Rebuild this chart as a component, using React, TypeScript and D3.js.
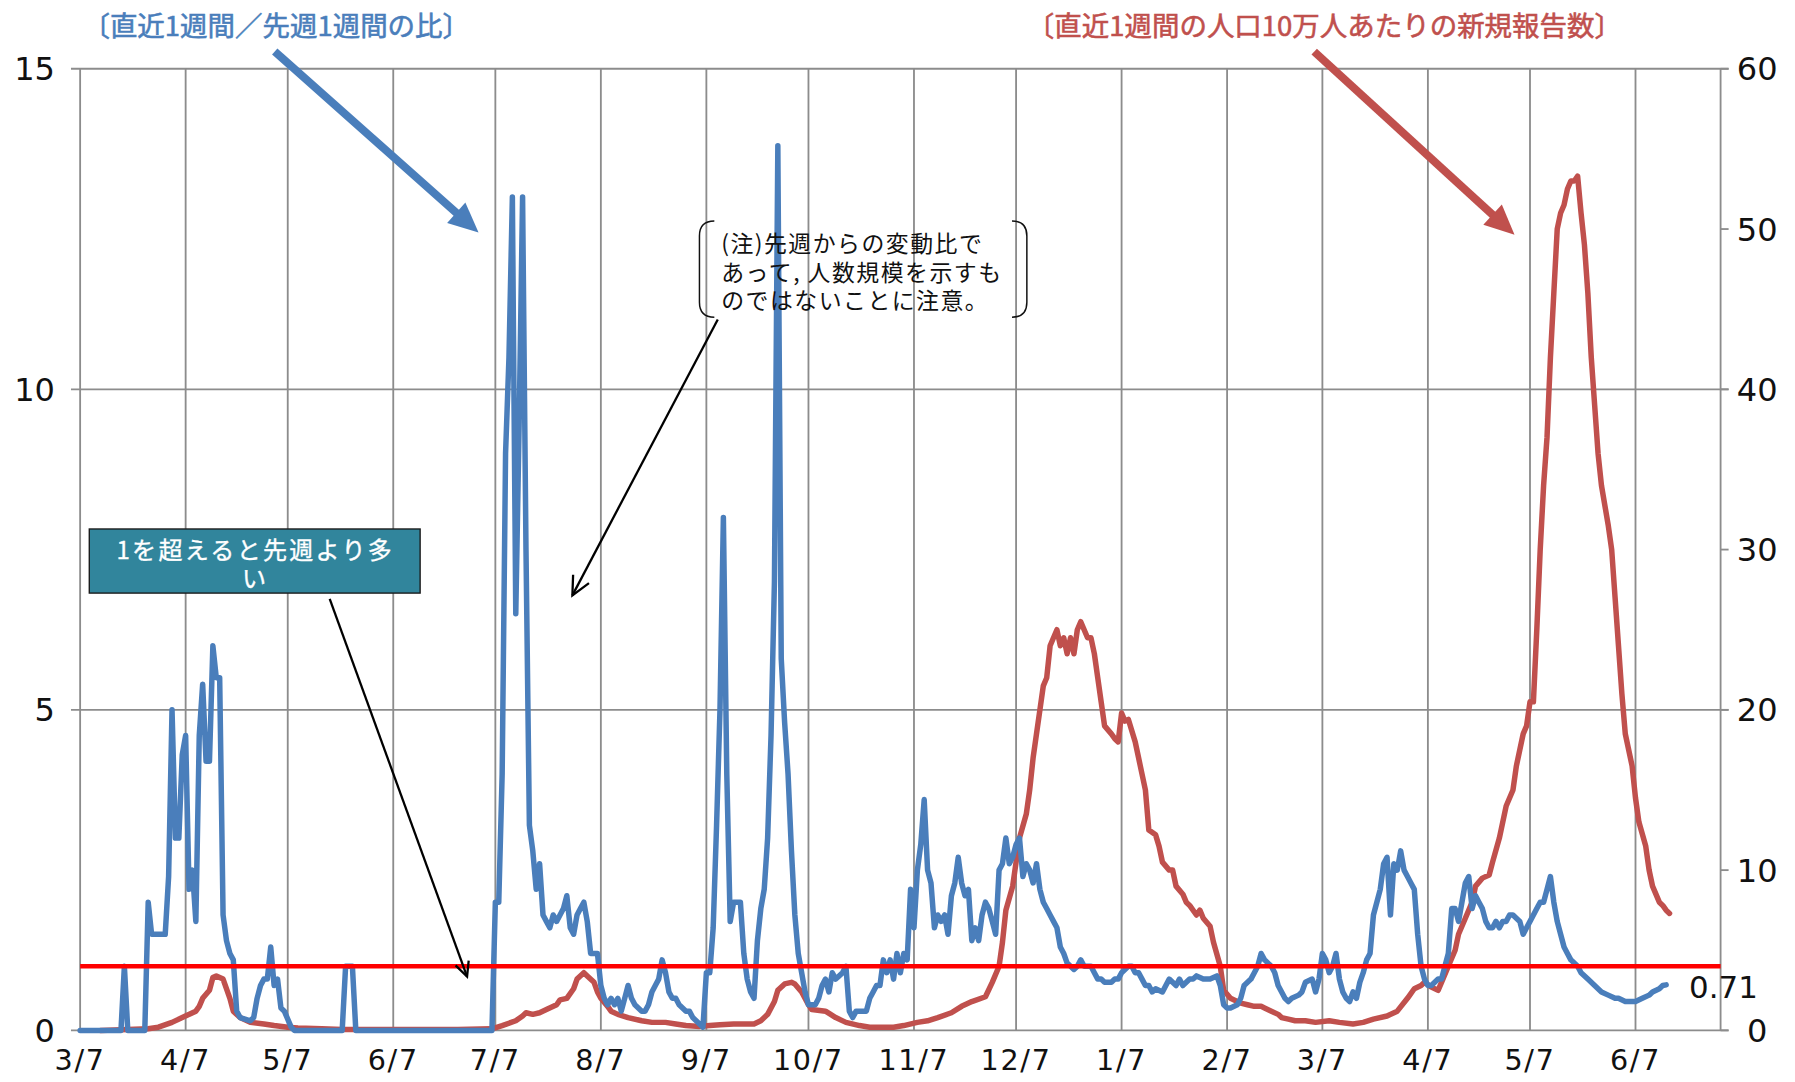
import React from "react";
import * as d3 from "d3";

// ---- data (day offsets from 2020-03-07, values) ----
const startDate = new Date(2020, 2, 7);
const axisDays = 482;
const monthTickLabels = ["3/7","4/7","5/7","6/7","7/7","8/7","9/7","10/7","11/7","12/7","1/7","2/7","3/7","4/7","5/7","6/7"];
const leftTicks = [0, 5, 10, 15];
const rightTicks = [0, 10, 20, 30, 40, 50, 60];
const thresholdRatio = 1;
const lastRatioLabel = "0.71";

// 直近1週間／先週1週間の比
const ratioSeries: [number, number][] = [
[0,0],[12,0],[13,1.0],[14,0],[19,0],[20,2.0],[21,1.5],[25,1.5],[26,2.4],[27,5.0],[28,3.0],[29,3.0],[30,4.3],[31,4.6],[32,2.2],[33,2.5],[34,1.7],[35,4.6],[36,5.4],[37,4.2],[38,4.2],[39,6.0],[40,5.5],[41,5.5],[42,1.8],[43,1.4],[44,1.2],[45,1.1],[46,0.3],[47,0.2],[50,0.15],[51,0.2],[52,0.5],[53,0.7],[54,0.8],[55,0.8],[56,1.3],[57,0.7],[58,0.8],[59,0.35],[60,0.3],[62,0.05],[63,0],[77,0],[78,1.0],[80,1.0],[81,0],[121,0],[122,2.0],[123,2.0],[124,4.0],[125,9.0],[126,10.5],[127,13.0],[128,6.5],[129,9.5],[130,13.0],[131,7.5],[132,3.2],[133,2.8],[134,2.2],[135,2.6],[136,1.8],[137,1.7],[138,1.6],[139,1.8],[140,1.7],[141,1.8],[142,1.9],[143,2.1],[144,1.6],[145,1.5],[146,1.8],[147,1.9],[148,2.0],[149,1.7],[150,1.2],[151,1.2],[152,1.2],[153,0.7],[154,0.5],[155,0.4],[156,0.5],[157,0.4],[158,0.5],[159,0.3],[160,0.5],[161,0.7],[162,0.5],[163,0.4],[164,0.35],[165,0.3],[166,0.3],[167,0.4],[168,0.6],[169,0.7],[170,0.8],[171,1.1],[172,0.9],[173,0.6],[174,0.5],[175,0.5],[176,0.4],[177,0.35],[178,0.3],[179,0.3],[180,0.2],[181,0.15],[182,0.1],[183,0.05],[184,0.9],[185,0.9],[186,1.6],[187,3.2],[188,5.0],[189,8.0],[190,4.0],[191,1.7],[192,2.0],[193,2.0],[194,2.0],[195,1.2],[196,0.8],[197,0.6],[198,0.5],[199,1.4],[200,1.9],[201,2.2],[202,3.0],[203,4.6],[204,7.0],[205,13.8],[206,5.8],[207,4.8],[208,4.0],[209,2.8],[210,1.8],[211,1.2],[212,0.9],[213,0.6],[214,0.4],[215,0.4],[216,0.4],[217,0.5],[218,0.7],[219,0.8],[220,0.6],[221,0.9],[222,0.8],[223,0.85],[224,0.9],[225,1.0],[226,0.3],[227,0.2],[228,0.3],[229,0.3],[230,0.3],[231,0.3],[232,0.5],[233,0.6],[234,0.7],[235,0.7],[236,1.1],[237,0.9],[238,1.1],[239,0.8],[240,1.2],[241,0.9],[242,1.2],[243,1.1],[244,2.2],[245,1.6],[246,2.5],[247,2.9],[248,3.6],[249,2.5],[250,2.3],[251,1.6],[252,1.8],[253,1.7],[254,1.8],[255,1.5],[256,2.1],[257,2.3],[258,2.7],[259,2.3],[260,2.1],[261,2.2],[262,1.4],[263,1.6],[264,1.4],[265,1.8],[266,2.0],[267,1.9],[268,1.7],[269,1.5],[270,2.5],[271,2.6],[272,3.0],[273,2.6],[274,2.7],[275,2.9],[276,3.0],[277,2.4],[278,2.6],[279,2.5],[280,2.3],[281,2.6],[282,2.2],[283,2.0],[284,1.9],[285,1.8],[286,1.7],[287,1.6],[288,1.3],[289,1.2],[290,1.05],[291,1.0],[292,0.95],[293,1.0],[294,1.1],[295,1.0],[296,1.0],[297,1.0],[298,0.9],[299,0.8],[300,0.8],[301,0.75],[303,0.75],[304,0.8],[305,0.8],[306,0.9],[308,1.0],[309,1.0],[310,0.9],[311,0.9],[312,0.8],[313,0.7],[314,0.7],[315,0.6],[316,0.65],[318,0.6],[319,0.7],[320,0.8],[322,0.7],[323,0.8],[324,0.7],[326,0.8],[327,0.8],[328,0.85],[330,0.8],[331,0.8],[332,0.8],[334,0.85],[335,0.7],[336,0.4],[337,0.35],[338,0.35],[340,0.4],[341,0.5],[342,0.7],[344,0.8],[345,0.9],[346,1.0],[347,1.2],[348,1.1],[350,1.0],[351,0.9],[352,0.7],[354,0.5],[355,0.45],[356,0.5],[358,0.55],[359,0.6],[360,0.75],[362,0.8],[363,0.6],[364,0.8],[365,1.2],[366,1.1],[367,0.9],[368,1.0],[369,1.2],[370,0.8],[371,0.6],[372,0.5],[373,0.45],[374,0.6],[375,0.5],[376,0.75],[377,0.9],[378,1.1],[379,1.2],[380,1.8],[381,2.0],[382,2.2],[383,2.6],[384,2.7],[385,1.8],[386,2.6],[387,2.5],[388,2.8],[389,2.5],[390,2.4],[391,2.3],[392,2.2],[393,1.5],[394,1.0],[395,0.8],[396,0.7],[397,0.7],[398,0.75],[399,0.8],[400,0.8],[401,1.0],[402,1.2],[403,1.9],[404,1.9],[405,1.7],[406,2.0],[407,2.3],[408,2.4],[409,1.9],[410,2.1],[411,2.0],[412,1.9],[413,1.7],[414,1.6],[415,1.6],[416,1.7],[417,1.6],[418,1.7],[419,1.7],[420,1.8],[421,1.8],[422,1.75],[423,1.7],[424,1.5],[425,1.6],[426,1.7],[427,1.8],[428,1.9],[429,2.0],[430,2.0],[431,2.2],[432,2.4],[433,2.0],[434,1.7],[435,1.5],[436,1.3],[437,1.2],[438,1.1],[440,1.0],[441,0.9],[443,0.8],[445,0.7],[447,0.6],[449,0.55],[451,0.5],[452,0.5],[454,0.45],[456,0.45],[457,0.45],[459,0.5],[461,0.55],[462,0.6],[464,0.65],[465,0.7],[466,0.71]
];

// 直近1週間の人口10万人あたりの新規報告数
const per100kSeries: [number, number][] = [
[6,0],[20,0.1],[23,0.2],[27,0.5],[30,0.8],[34,1.2],[35,1.5],[36,2.0],[38,2.5],[39,3.3],[40,3.4],[42,3.2],[44,2.0],[45,1.2],[47,0.8],[50,0.5],[54,0.4],[57,0.3],[61,0.2],[64,0.15],[71,0.1],[77,0.05],[111,0.05],[121,0.1],[124,0.3],[128,0.6],[130,0.9],[131,1.1],[133,1.0],[135,1.1],[137,1.3],[140,1.6],[141,1.9],[143,2.0],[145,2.6],[146,3.2],[148,3.6],[149,3.4],[151,3.0],[152,2.4],[153,2.0],[155,1.5],[156,1.2],[158,1.0],[161,0.8],[165,0.6],[168,0.5],[172,0.5],[175,0.4],[178,0.3],[182,0.25],[185,0.3],[188,0.35],[192,0.4],[195,0.4],[198,0.4],[200,0.6],[202,1.0],[204,1.8],[205,2.5],[207,2.9],[209,3.0],[210,2.9],[212,2.4],[214,1.6],[215,1.3],[219,1.2],[222,0.8],[225,0.5],[229,0.3],[232,0.2],[239,0.2],[242,0.3],[246,0.5],[249,0.6],[252,0.8],[256,1.1],[259,1.5],[262,1.8],[266,2.1],[268,3.0],[270,4.0],[271,5.5],[272,7.5],[274,9.0],[275,10.5],[276,12.0],[278,13.5],[279,15.0],[280,17.0],[281,18.5],[282,20.0],[283,21.5],[284,22.0],[285,24.0],[287,25.0],[288,24.0],[289,24.5],[290,23.5],[291,24.5],[292,23.5],[293,25.0],[294,25.5],[295,25.0],[296,24.5],[297,24.5],[298,23.5],[299,22.0],[300,20.5],[301,19.0],[303,18.5],[304,18.2],[305,18.0],[306,19.8],[307,19.3],[308,19.4],[310,18.0],[311,17.0],[312,16.0],[313,15.0],[314,12.5],[316,12.2],[317,11.5],[318,10.5],[320,10.0],[321,10.0],[322,9.0],[324,8.5],[325,8.0],[326,7.8],[328,7.2],[329,7.5],[330,7.0],[332,6.5],[333,5.5],[335,4.0],[336,2.5],[338,2.0],[340,1.8],[341,1.7],[343,1.6],[345,1.5],[347,1.5],[348,1.4],[350,1.2],[352,1.0],[353,0.8],[355,0.7],[357,0.6],[360,0.6],[363,0.5],[367,0.6],[370,0.5],[374,0.4],[377,0.5],[380,0.7],[384,0.9],[387,1.2],[390,2.0],[392,2.6],[394,2.8],[395,3.0],[397,2.7],[399,2.5],[400,3.0],[402,4.0],[404,5.0],[405,6.0],[407,7.0],[409,8.0],[410,9.0],[412,9.5],[414,9.7],[415,10.5],[417,12.0],[419,14.0],[421,15.0],[422,16.5],[423,17.5],[424,18.5],[425,19.0],[426,20.5],[427,20.5],[428,25],[429,30],[430,34],[431,37],[432,42],[433,46],[434,50],[435,51],[436,51.5],[437,52.5],[438,53],[439,53],[440,53.3],[441,51],[442,49],[443,46],[444,42],[445,39],[446,36],[447,34],[449,31.5],[450,30],[451,27],[452,24],[453,21],[454,18.5],[456,16.5],[457,14.5],[458,13.0],[460,11.5],[461,10.0],[462,9.0],[464,8.0],[465,7.8],[466,7.5],[467,7.3]
];

const titleLeft = "〔直近1週間／先週1週間の比〕";
const titleRight = "〔直近1週間の人口10万人あたりの新規報告数〕";
const noteLines = ["(注)先週からの変動比で", "あって, 人数規模を示すも", "のではないことに注意。"];
const boxLines = ["1を超えると先週より多", "い"];

const BLUE = "#4a7ebb";
const RED = "#c0504d";
const GRID = "#8c8c8c";
const FONT = "'Noto Sans CJK JP', 'Noto Sans', sans-serif";
const NUMFONT = "'DejaVu Sans', sans-serif";

function thickArrow(x1: number, y1: number, x2: number, y2: number, w: number, hl: number, hw: number, color: string) {
  const a = Math.atan2(y2 - y1, x2 - x1);
  const bx = x2 - hl * Math.cos(a), by = y2 - hl * Math.sin(a);
  const px = -Math.sin(a), py = Math.cos(a);
  const pts = [[x2, y2], [bx + px * hw / 2, by + py * hw / 2], [bx - px * hw / 2, by - py * hw / 2]];
  return (
    <g>
      <line x1={x1} y1={y1} x2={bx + 2 * Math.cos(a)} y2={by + 2 * Math.sin(a)} stroke={color} strokeWidth={w} />
      <polygon points={pts.map(p => p.join(",")).join(" ")} fill={color} />
    </g>
  );
}

function openArrow(x1: number, y1: number, x2: number, y2: number, hl: number, color: string) {
  const a = Math.atan2(y2 - y1, x2 - x1);
  const s = 0.45;
  const l1 = [x2 - hl * Math.cos(a - s), y2 - hl * Math.sin(a - s)];
  const l2 = [x2 - hl * Math.cos(a + s), y2 - hl * Math.sin(a + s)];
  return (
    <g fill="none" stroke={color} strokeWidth={2}>
      <line x1={x1} y1={y1} x2={x2} y2={y2} />
      <polyline points={`${l1.join(",")} ${x2},${y2} ${l2.join(",")}`} />
    </g>
  );
}

export default function App() {
  const W = 1568, H = 945;
  const left = 70, right = 1503, top = 60, bottom = 900;
  const dayDate = (d: number) => d3.timeDay.offset(startDate, d);
  const x = d3.scaleTime().domain([startDate, dayDate(axisDays)]).range([left, right]);
  const yL = d3.scaleLinear().domain([0, 15]).range([bottom, top]);
  const yR = d3.scaleLinear().domain([0, 60]).range([bottom, top]);
  const monthDates = monthTickLabels.map((_, i) => new Date(2020, 2 + i, 7));

  const lineL = d3.line<[number, number]>().x(d => x(dayDate(d[0]))).y(d => yL(d[1])).curve(d3.curveLinear);
  const lineR = d3.line<[number, number]>().x(d => x(dayDate(d[0]))).y(d => yR(d[1])).curve(d3.curveLinear);
  const last = ratioSeries[ratioSeries.length - 1];

  return (
    <svg width={1795} height={1082} viewBox={`0 0 ${W} ${H}`} style={{ position: "absolute", left: 0, top: 0, background: "#fff" }} fontFamily={FONT}>
      <rect x={0} y={0} width={W} height={H} fill="#fff" />
      {/* horizontal gridlines */}
      {leftTicks.map(t => (
        <line key={"h" + t} x1={left - 8} x2={right + 7} y1={yL(t)} y2={yL(t)} stroke={GRID} strokeWidth={1.6} />
      ))}
      {rightTicks.map(t => (
        <line key={"rt" + t} x1={right} x2={right + 7} y1={yR(t)} y2={yR(t)} stroke={GRID} strokeWidth={1.6} />
      ))}
      {/* vertical gridlines */}
      {monthDates.map((d, i) => (
        <line key={"v" + i} x1={x(d)} x2={x(d)} y1={top} y2={bottom} stroke={GRID} strokeWidth={1.6} />
      ))}
      <line x1={right} x2={right} y1={top} y2={bottom} stroke={GRID} strokeWidth={1.6} />

      {/* axis labels */}
      {leftTicks.map(t => (
        <text key={"ll" + t} x={48} y={yL(t)} dy="0.36em" textAnchor="end" fontSize={28} fill="#111" fontFamily={NUMFONT}>{t}</text>
      ))}
      {rightTicks.map(t => (
        <text key={"rl" + t} x={1535} y={yR(t)} dy="0.36em" textAnchor="middle" fontSize={28} fill="#111" fontFamily={NUMFONT}>{t}</text>
      ))}
      {monthDates.map((d, i) => (
        <text key={"xl" + i} x={x(d)} y={935} textAnchor="middle" fontSize={25} fill="#111" fontFamily={NUMFONT} letterSpacing={1.5}>{monthTickLabels[i]}</text>
      ))}

      {/* series */}
      <path d={lineR(per100kSeries) || ""} fill="none" stroke={RED} strokeWidth={4.8} strokeLinejoin="round" strokeLinecap="round" />
      <path d={lineL(ratioSeries) || ""} fill="none" stroke={BLUE} strokeWidth={4.8} strokeLinejoin="round" strokeLinecap="round" />

      {/* threshold line */}
      <line x1={left} x2={right} y1={yL(thresholdRatio)} y2={yL(thresholdRatio)} stroke="#ff0000" strokeWidth={4} />

      {/* last value label */}
      <text x={x(dayDate(last[0])) + 20} y={yL(last[1]) + 2} dy="0.36em" fontSize={27} fill="#111" fontFamily={NUMFONT}>{lastRatioLabel}</text>

      {/* titles */}
      <text x={72} y={31} fontSize={24} fill={BLUE} stroke={BLUE} strokeWidth={0.5}>{titleLeft}</text>
      <text x={897} y={31} fontSize={24} fill={RED} stroke={RED} strokeWidth={0.5}>{titleRight}</text>

      {/* thick arrows */}
      {thickArrow(240, 45, 418, 203, 7, 26, 24, BLUE)}
      {thickArrow(1148, 45, 1323, 205, 7, 26, 24, RED)}

      {/* note callout */}
      <path d="M 624 193 Q 611 193 611 206 L 611 264 Q 611 277 624 277" fill="none" stroke="#111" strokeWidth={1.3} />
      <path d="M 884 193 Q 897 193 897 206 L 897 264 Q 897 277 884 277" fill="none" stroke="#111" strokeWidth={1.3} />
      <text fontSize={20} letterSpacing={1.3} fill="#111">
        {noteLines.map((s, i) => (
          <tspan key={"n" + i} x={630} y={220 + i * 25}>{s}</tspan>
        ))}
      </text>
      {openArrow(627, 279, 500, 520, 18, "#000")}

      {/* teal box */}
      <rect x={78} y={462} width={289} height={56} fill="#31859c" stroke="#1a1a1a" strokeWidth={1.2} />
      <text textAnchor="middle" fontSize={21} letterSpacing={2} fill="#fff" stroke="#fff" strokeWidth={0.3}>
        {boxLines.map((s, i) => (
          <tspan key={"b" + i} x={223} y={488 + i * 25}>{s}</tspan>
        ))}
      </text>
      {openArrow(288, 523, 408, 853, 14, "#000")}
    </svg>
  );
}
